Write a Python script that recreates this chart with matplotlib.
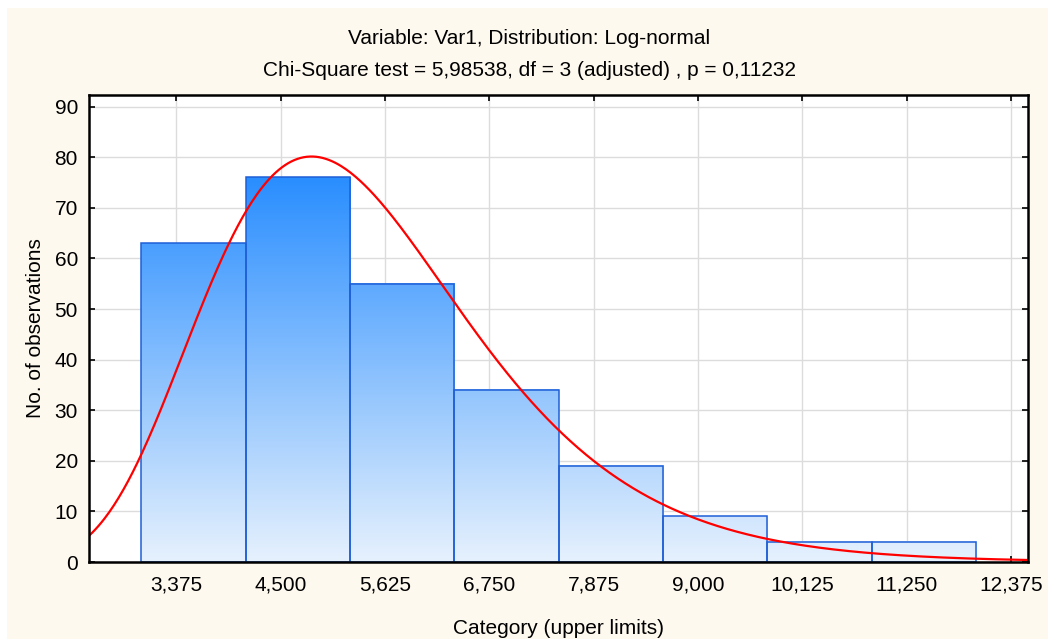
"""
Histogram of Var1 with a fitted log-normal curve (Statistica style).
"""
import numpy as np
import matplotlib
matplotlib.use("Agg")
import matplotlib.pyplot as plt
from matplotlib.colors import LinearSegmentedColormap, Normalize
from matplotlib.patches import Rectangle

plt.rcParams["font.family"] = ["Liberation Sans", "DejaVu Sans"]

# histogram data
bin_edges = [3.0, 4.125, 5.25, 6.375, 7.5, 8.625, 9.75, 10.875, 12.0]
counts = [63, 76, 55, 34, 19, 9, 4, 4]

# tick positions / labels on the category axis
x_ticks = [3.375, 4.5, 5.625, 6.75, 7.875, 9.0, 10.125, 11.25, 12.375]
x_tick_labels = ["3,375", "4,500", "5,625", "6,750", "7,875",
                 "9,000", "10,125", "11,250", "12,375"]
y_ticks = [0, 10, 20, 30, 40, 50, 60, 70, 80, 90]

# fitted log-normal parameters
ln_mu = 1.6615
ln_sigma = 0.293

title1 = "Variable: Var1, Distribution: Log-normal"
title2 = "Chi-Square test = 5,98538, df = 3 (adjusted) , p = 0,11232"

BG = "#FEF9EF"
EDGE = "#1F5FD6"
grad = LinearSegmentedColormap.from_list("bar", ["#E6F1FD", "#2A8EFF"])
FS = 15

fig = plt.figure(figsize=(10.48, 6.39), dpi=100, facecolor="white")
# cream panel inset from the left/top edge
fig.patches.append(Rectangle((7 / 1048, -0.01), 1, 1.01 - 8 / 639,
                             transform=fig.transFigure, facecolor=BG,
                             edgecolor="none", zorder=-10))

ax = fig.add_axes([89 / 1048, 1 - 562 / 639, (1028 - 89) / 1048,
                   (562 - 95) / 639])
ax.set_facecolor("white")
xlim = (2.435, 12.56)
ylim = (0, 92.3)

ax.set_xticks(x_ticks)
ax.set_xticklabels(x_tick_labels)
ax.set_yticks(y_ticks)
ax.grid(True, color="#DCDCDC", lw=1.0, zorder=0)
ax.set_axisbelow(True)
ax.tick_params(direction="in", length=4, width=1.2, top=True, right=True,
               labelsize=FS, colors="black")
ax.tick_params(axis="x", pad=10)
ax.tick_params(axis="y", pad=8)
for s in ax.spines.values():
    s.set_linewidth(1.8)
    s.set_zorder(10)

# bars with vertical gradient tied to absolute height
norm = Normalize(0, max(counts))
for i, h in enumerate(counts):
    x0, x1 = bin_edges[i], bin_edges[i + 1]
    col = np.linspace(0, h, 200).reshape(-1, 1)
    ax.imshow(col, cmap=grad, norm=norm, origin="lower", aspect="auto",
              extent=[x0, x1, 0, h], interpolation="bicubic", zorder=2)
    ax.add_patch(Rectangle((x0, 0), x1 - x0, h, facecolor="none",
                           edgecolor=EDGE, lw=1.1, zorder=3))
ax.set_xlim(*xlim)
ax.set_ylim(*ylim)

# fitted log-normal curve, scaled to counts
n_total = sum(counts)
width = bin_edges[1] - bin_edges[0]
xs = np.linspace(xlim[0], xlim[1], 600)
pdf = np.exp(-(np.log(xs) - ln_mu) ** 2 / (2 * ln_sigma ** 2)) / (
    xs * ln_sigma * np.sqrt(2 * np.pi))
ax.plot(xs, pdf * n_total * width, color="#FF0000", lw=1.6, zorder=4)

ax.set_xlabel("Category (upper limits)", fontsize=FS, labelpad=17)
ax.set_ylabel("No. of observations", fontsize=FS, labelpad=7)
fig.text(0.505, 1 - 39 / 639, title1, ha="center", va="center", fontsize=FS)
fig.text(0.505, 1 - 70 / 639, title2, ha="center", va="center", fontsize=FS)

fig.savefig("out.png", dpi=100, facecolor=fig.get_facecolor())
